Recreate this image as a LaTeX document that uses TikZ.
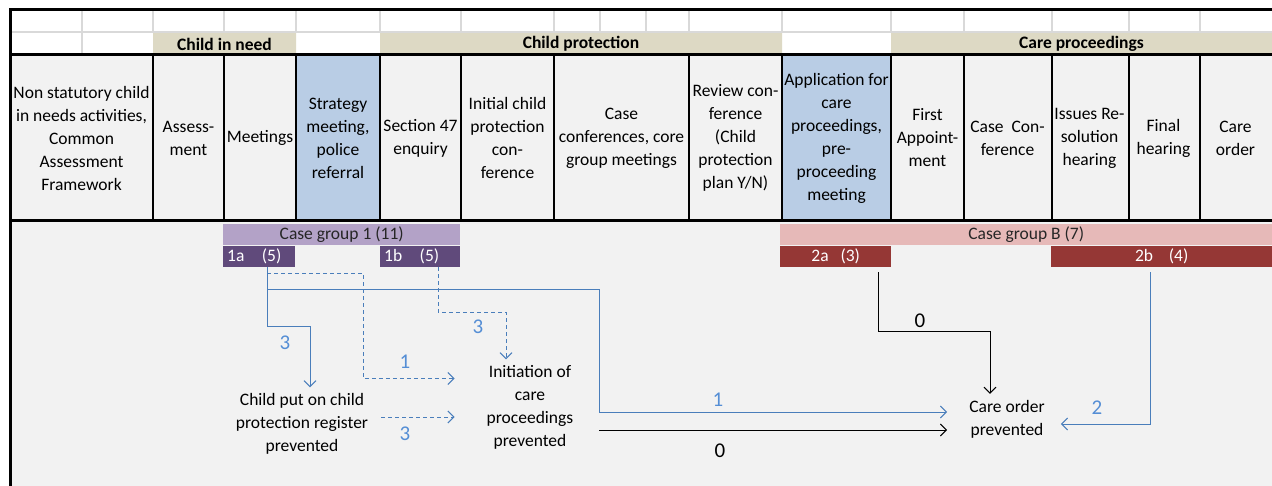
\documentclass[tikz,border=0pt]{standalone}
\usepackage{fontspec}
\setmainfont{Carlito}
\usepackage{tikz}
\usetikzlibrary{arrows.meta}
\definecolor{hdrtan}{HTML}{DDD9C4}
\definecolor{hdrblue}{HTML}{B9CDE5}
\definecolor{cellgray}{HTML}{F2F2F2}
\definecolor{gridgray}{HTML}{D9D9D9}
\definecolor{lilac}{HTML}{B3A2C7}
\definecolor{plum}{HTML}{604A7B}
\definecolor{rose}{HTML}{E6B9B8}
\definecolor{brick}{HTML}{953735}
\definecolor{lineblue}{HTML}{4A7EBB}
\definecolor{numblue}{HTML}{558ED5}

\begin{document}
\begin{tikzpicture}[x=1pt, y=-1pt,
  every node/.style={font=\fontsize{17.5}{23}\selectfont},
  col/.style={align=center, inner sep=1pt},
  hdr/.style={font=\fontsize{17.5}{23}\selectfont\bfseries},
  bar/.style={inner sep=0pt, minimum height=21pt, anchor=north west},
  res/.style={align=center, inner sep=2pt},
  fl/.style={-{Straight Barb[length=6pt,width=12pt]}, line width=1pt},
  azul/.style={fl, lineblue},
  azuld/.style={azul, dash pattern=on 4pt off 3pt},
  negro/.style={fl, black},
  cnt/.style={font=\fontsize{21}{25}\selectfont},
  num/.style={cnt, text=numblue}]
\useasboundingbox (0,0) rectangle (1272,486);
\fill[white] (0,0) rectangle (1272,486);
\fill[cellgray] (10,55) rectangle (1272,486);
\fill[hdrtan] (153,32) rectangle (296,55) (380,32) rectangle (782,55) (891,32) rectangle (1272,55);
\fill[hdrblue] (296,55) rectangle (380,221) (782,55) rectangle (891,221);
\draw[gridgray, line width=1.5pt] (10,32) -- (1272,32) (82,10) -- (82,55);
\foreach \x in {153,224,296,380,461,554,600,646,689,782,891,964,1052,1129,1200}
  \draw[gridgray, line width=1.5pt] (\x,10) -- (\x,32);
\foreach \x in {153,224,296,380,461,554,689,782,891,964,1052,1129,1200}
  \draw[line width=2pt] (\x,55) -- (\x,221);
\draw[line width=3pt] (10,486) -- (10,10) -- (1272,10) (10,55) -- (1272,55) (10,221) -- (1272,221);

\node[hdr] (cin) at (224.5,44) {Child in need};
\node[hdr] (cpt) at (581,44) {Child protection};
\node[hdr] (cpr) at (1081.5,44) {Care proceedings};

\node[col] (nsc) at (81.5,138) {Non statutory child\\in needs activities,\\Common\\Assessment\\Framework};
\node[col] (ass) at (188.5,138) {Assess-\\ment};
\node[col] (mtg) at (260,138) {Meetings};
\node[col] (strat) at (338,138) {Strategy\\meeting,\\police\\referral};
\node[col] (s47) at (420.5,138) {Section 47\\enquiry};
\node[col] (icpc) at (507.5,138) {Initial child\\protection\\con-\\ference};
\node[col] (ccg) at (621.5,138) {Case\\conferences, core\\group meetings};
\node[col] (rev) at (735.5,138) {Review con-\\ference\\(Child\\protection\\plan Y/N)};
\node[col] (app) at (836.5,138) {Application for\\care\\proceedings,\\pre-\\proceeding\\meeting};
\node[col] (fa) at (927.5,138) {First\\Appoint-\\ment};
\node[col] (cc) at (1007.5,138) {Case\ \ Con-\\ference};
\node[col] (irh) at (1089.5,138) {Issues Re-\\solution\\hearing};
\node[col] (fh) at (1163.5,138) {Final\\hearing};
\node[col] (co) at (1235.5,138) {Care\\order};

\node[bar, fill=lilac, minimum width=237pt, text=black!85] (g1) at (223,224) {Case group 1 (11)};
\node[bar, fill=plum, text=white, inner xsep=4pt, text width=64pt, align=left] (g1a) at (223,246) {1a\ \ \ (5)};
\node[bar, fill=plum, text=white, inner xsep=4pt, text width=72pt, align=left] (g1b) at (380,246) {1b\ \ \ (5)};
\node[bar, fill=rose, minimum width=492pt, text=black!85] (gB) at (780,224) {Case group B (7)};
\node[bar, fill=brick, text=white, minimum width=111pt] (g2a) at (780,246) {2a\ \ \ (3)};
\node[bar, fill=brick, text=white, minimum width=221pt] (g2b) at (1051,246) {2b\ \ \ \ (4)};

\node[res] (reg) at (302,424) {Child put on child\\protection register\\prevented};
\node[res] (init) at (530,407.5) {Initiation of\\care\\proceedings\\prevented};
\node[res] (cop) at (1007,419) {Care order\\prevented};

\draw[azul] ([xshift=44pt]g1a.south west) -- ++(0,59) -| ([xshift=8pt,yshift=4pt]reg.north);
\draw[azul] ([xshift=44pt,yshift=-22pt]g1a.south west) -- ++(332,0) |- ([xshift=-20pt,yshift=7pt]cop.west);
\draw[azuld] ([xshift=44pt,yshift=-6pt]g1a.south west) -- ++(96,0) |- ([xshift=-30pt,yshift=29pt]init.west);
\draw[azuld] ([xshift=58pt]g1b.south west) -- ++(0,45) -| ([xshift=-24pt,yshift=4pt]init.north);
\draw[azuld] ([xshift=11pt,yshift=7pt]reg.east) -- ([xshift=-30pt,yshift=-9.5pt]init.west);
\draw[negro] ([xshift=24pt,yshift=-22.5pt]init.east) -- ([xshift=-20pt,yshift=-11pt]cop.west);
\draw[negro, shorten <=5pt] ([xshift=98pt]g2a.south west) -- ++(0,64) -| ([xshift=-17pt,yshift=4pt]cop.north);
\draw[azul, shorten <=5pt] ([xshift=99pt]g2b.south west) |- ([xshift=14pt,yshift=-5pt]cop.east);

\node[num] (n1) at (285,343) {3};
\node[num] (n2) at (405,362) {1};
\node[num] (n3) at (478,327) {3};
\node[num] (n4) at (405,434) {3};
\node[num] (n5) at (718,400) {1};
\node[cnt] (n6) at (720,451) {0};
\node[cnt] (n7) at (920,321) {0};
\node[num] (n8) at (1097,408) {2};
\end{tikzpicture}
\end{document}
